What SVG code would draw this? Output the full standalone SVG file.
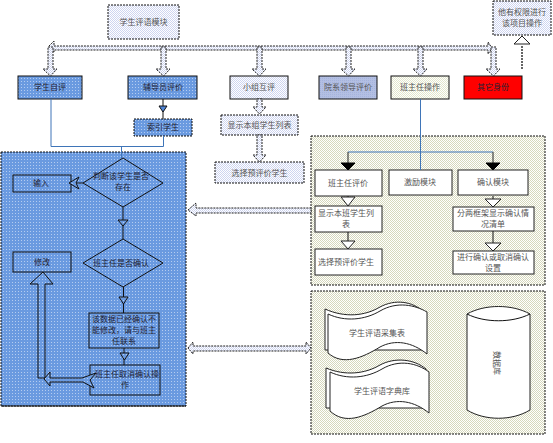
<svg xmlns="http://www.w3.org/2000/svg" width="553" height="443" viewBox="0 0 553 443">
<style>
text{font-family:"Noto Sans CJK SC","Liberation Sans",sans-serif;font-size:8px;fill:#555;text-anchor:middle}
.d{fill:#223}
.box{stroke:#111;stroke-width:1}
.dash{stroke:#111;stroke-width:1;stroke-dasharray:2 1}
.w{fill:#fff;stroke:#222;stroke-width:1}
.o{fill:none;stroke:#111;stroke-width:1}
.blue{fill:none;stroke:#3f75b8;stroke-width:1}
.ba{fill:url(#lav);stroke:#222;stroke-width:1;stroke-dasharray:2 1}
.hb{fill:url(#blu);stroke:#111;stroke-width:1}
.tri{fill:#fff;stroke:#222;stroke-width:1}
.trb{fill:#4f86d8;stroke:#111;stroke-width:1}
.blk{fill:#000;stroke:#000}
</style>
<defs>
<pattern id="blu" width="3" height="3" patternUnits="userSpaceOnUse"><rect width="3" height="3" fill="#6a9ae0"/><rect width="1" height="1" fill="#b4ccf0"/></pattern>
<pattern id="lav" width="2" height="2" patternUnits="userSpaceOnUse"><rect width="2" height="2" fill="#fff"/><rect width="1" height="1" fill="#ced5f0"/><rect x="1" y="1" width="1" height="1" fill="#ced5f0"/></pattern>
<pattern id="per" width="2" height="2" patternUnits="userSpaceOnUse"><rect width="2" height="2" fill="#b3bfe3"/><rect width="1" height="1" fill="#a5b3dc"/></pattern>
<pattern id="yel" width="2" height="2" patternUnits="userSpaceOnUse"><rect width="2" height="2" fill="#fff"/><rect width="1" height="1" fill="#d6d8bc"/><rect x="1" y="1" width="1" height="1" fill="#d6d8bc"/></pattern>
<pattern id="pal" width="2" height="2" patternUnits="userSpaceOnUse"><rect width="2" height="2" fill="#fff"/><rect width="1" height="1" fill="#e2e6cc"/><rect x="1" y="1" width="1" height="1" fill="#e2e6cc"/></pattern>
</defs>

<g id="panels">
<g id="panel-blue"><rect x="1" y="152" width="185" height="254" fill="url(#blu)" class="dash"/><path d="M1 406H186" class="o" stroke-width="1.5"/></g>
<g id="panel-ops"><rect x="311" y="136" width="234" height="149" fill="url(#yel)" class="dash"/></g>
<g id="panel-data"><rect x="311" y="291" width="234" height="143" fill="url(#yel)" class="dash"/></g>
</g>

<g id="n-module"><rect x="108" y="5" width="71" height="34" fill="url(#lav)" class="dash"/><text x="143.500" y="25">学生评语模块</text></g>
<g id="n-auth"><rect x="493" y="1" width="58" height="34" fill="url(#lav)" class="dash"/><text x="522" y="15">他有权限进行</text><text x="522" y="26">该项目操作</text></g>
<g id="n-self"><rect x="18" y="76" width="64" height="23" fill="url(#blu)" class="box"/><text class="d" x="50" y="90">学生自评</text></g>
<g id="n-counselor"><rect x="128" y="76" width="69" height="23" fill="url(#blu)" class="box"/><text class="d" x="163" y="90">辅导员评价</text></g>
<g id="n-group"><rect x="230" y="76" width="58" height="23" fill="url(#lav)" class="box"/><text x="259" y="90">小组互评</text></g>
<g id="n-dept"><rect x="319" y="76" width="58" height="23" fill="url(#per)" class="box"/><text x="348" y="90">院系领导评价</text></g>
<g id="n-head"><rect x="391" y="76" width="58" height="23" fill="url(#pal)" class="box"/><text x="420" y="90">班主任操作</text></g>
<g id="n-other"><rect x="464" y="76" width="58" height="23" fill="#f00" class="box"/><text class="d" x="493" y="90">其它身份</text></g>
<g id="n-index"><rect x="134" y="119" width="58" height="17" fill="url(#blu)" class="dash"/><text class="d" x="163" y="130">索引学生</text></g>
<g id="n-grouplist"><rect x="221" y="115" width="77" height="20" fill="url(#lav)" class="dash"/><text x="259.500" y="128">显示本组学生列表</text></g>
<g id="n-grouppick"><rect x="215" y="162" width="89" height="21" fill="url(#lav)" class="dash"/><text x="259.500" y="176">选择预评价学生</text></g>

<g id="n-exist"><polygon points="123,158 163,183 123,207 83,183" fill="url(#blu)" class="box"/><text class="d" x="121" y="179">判断该学生是否</text><text class="d" x="123" y="190">存在</text></g>
<g id="n-confirmq"><polygon points="123,239 163,263 123,287 83,263" fill="url(#blu)" class="box"/><text class="d" x="121" y="266">班主任是否确认</text></g>
<g id="n-input"><rect x="13" y="175" width="58" height="17" fill="url(#blu)" class="box"/><text class="d" x="41" y="186">输入</text></g>
<g id="n-edit"><rect x="13" y="252" width="58" height="20" fill="url(#blu)" class="box"/><text class="d" x="42" y="265">修改</text></g>
<g id="n-locked"><rect x="89" y="313" width="70" height="35" fill="url(#blu)" class="box"/><text class="d" x="124" y="322">该数据已经确认不</text><text class="d" x="124" y="333">能修改，请与班主</text><text class="d" x="124" y="344">任联系</text></g>
<g id="n-cancel"><rect x="90" y="365" width="70" height="30" fill="url(#blu)" class="box"/><text class="d" x="127" y="377">班主任取消确认操</text><text class="d" x="125" y="388">作</text></g>

<g id="n-headeval"><rect x="315" y="170" width="67" height="26" class="w"/><text x="348" y="186">班主任评价</text></g>
<g id="n-classlist"><rect x="315" y="206" width="67" height="26" class="w"/><text x="346" y="216">显示本班学生列</text><text x="346" y="227">表</text></g>
<g id="n-classpick"><rect x="315" y="249" width="67" height="26" class="w"/><text x="346" y="265">选择预评价学生</text></g>
<g id="n-incentive"><rect x="389" y="170" width="63" height="25" class="w"/><text x="420" y="185">激励模块</text></g>
<g id="n-confirm"><rect x="458" y="170" width="70" height="25" class="w"/><text x="493" y="185">确认模块</text></g>
<g id="n-split"><rect x="453" y="207" width="81" height="24" class="w"/><text x="493" y="216">分两框架显示确认情</text><text x="493" y="227">况清单</text></g>
<g id="n-setup"><rect x="453" y="251" width="81" height="23" class="w"/><text x="493" y="260">进行确认或取消确认</text><text x="493" y="271">设置</text></g>

<g id="n-collect">
<path d="M325 309C345 318 365 316 380 307C395 299 412 301 424 312V350L325 350Z" class="w"/>
<path d="M328 314C345 322 365 320 380 311C397 301 415 305 427 312V354C412 342 395 339 380 347C362 358 343 366 328 353Z" class="w"/>
<text x="377" y="336">学生评语采集表</text>
</g>
<g id="n-dict">
<path d="M326 368C345 376 365 374 380 365C395 357 414 359 426 369V408L326 408Z" class="w"/>
<path d="M330 372C347 380 367 378 382 369C399 359 417 363 429 372V413C414 401 397 398 382 406C364 417 345 425 330 411Z" class="w"/>
<text x="382" y="394">学生评语字典库</text>
</g>
<g id="n-db">
<path d="M467 314C485 304 512 304 530 314V410C512 421 485 421 467 410Z" class="w"/>
<path d="M467 314C485 323 512 323 530 314" class="o"/>
<text x="0" y="3" transform="translate(497,363) rotate(90)">数据库</text>
</g>

<g id="connectors">
<polygon class="ba" points="49,46 54,41 54,46 488,46 488,42 492,48 488,54 488,50 54,50 54,52"/>
<polygon class="ba" points="48,47 53,47 53,69 57,69 50.500,76 43,69 48,69"/>
<polygon class="ba" points="161,47 166,47 166,69 170,69 163.500,76 156,69 161,69"/>
<polygon class="ba" points="257,47 262,47 262,69 266,69 259.500,76 252,69 257,69"/>
<polygon class="ba" points="346,47 351,47 351,69 355,69 348.500,76 341,69 346,69"/>
<polygon class="ba" points="418,47 423,47 423,69 427,69 420.500,76 413,69 418,69"/>
<polygon class="ba" points="491,47 496,47 496,69 500,69 493.500,76 486,69 491,69"/>
<path d="M522 69V45" fill="none" stroke="#333" stroke-width="1.500" stroke-dasharray="2 1"/>
<polygon class="tri" points="514,44 522,36 530,44"/>
<path d="M163 99V119" class="o"/>
<polygon class="trb" points="159,106 167,106 163,112"/>
<polygon class="ba" points="257,99 262,99 262,107 266,107 259.500,114 253,107 257,107"/>
<polygon class="ba" points="257,135 262,135 262,155 266,155 259.500,162 253,155 257,155"/>
<path d="M51 99V146.500H163.500V136M121.500 146.500V158" class="blue"/>
<path d="M420.500 99V170M348 152H493" class="blue"/>
<path d="M348 152V163M493 152V163" stroke="#222" fill="none"/>
<polygon class="blk" points="341,163 355,163 348,170"/>
<polygon class="blk" points="486,163 500,163 493,170"/>
<path d="M348 196V206M348 232V249M493 196V207M493 231V251" class="o"/>
<polygon class="tri" points="341,197 355,197 348,206"/>
<polygon class="tri" points="341,241 355,241 348,249"/>
<polygon class="tri" points="485,199 501,199 493,207"/>
<polygon class="tri" points="485,243 501,243 493,251"/>
<polygon class="ba" points="188,210 196,203 196,208 311,208 311,213 196,213 196,216"/>
<polygon class="ba" points="188,348 193,342 193,346 306,346 306,342 311,348 306,354 306,351 193,351 193,354"/>
<path d="M83 183H76" class="o"/>
<polygon class="hb" points="69,183 79,177 76,183 79,189"/>
<path d="M123 207V239M123.500 287V313M124 348V365" class="o"/>
<polygon class="hb" points="118,220 128,220 123,226"/>
<polygon class="hb" points="119,297 128,297 123.500,304"/>
<polygon class="hb" points="120,353 129,353 124.500,360"/>
<polygon class="hb" points="43,272 53,284 45,284 45,378 38,378 38,284 30,284"/>
<polygon class="hb" points="44,379 50,372 50,378 82,378 96,373 90,380 94,388 83,382 50,382 50,386"/>
</g>
</svg>
